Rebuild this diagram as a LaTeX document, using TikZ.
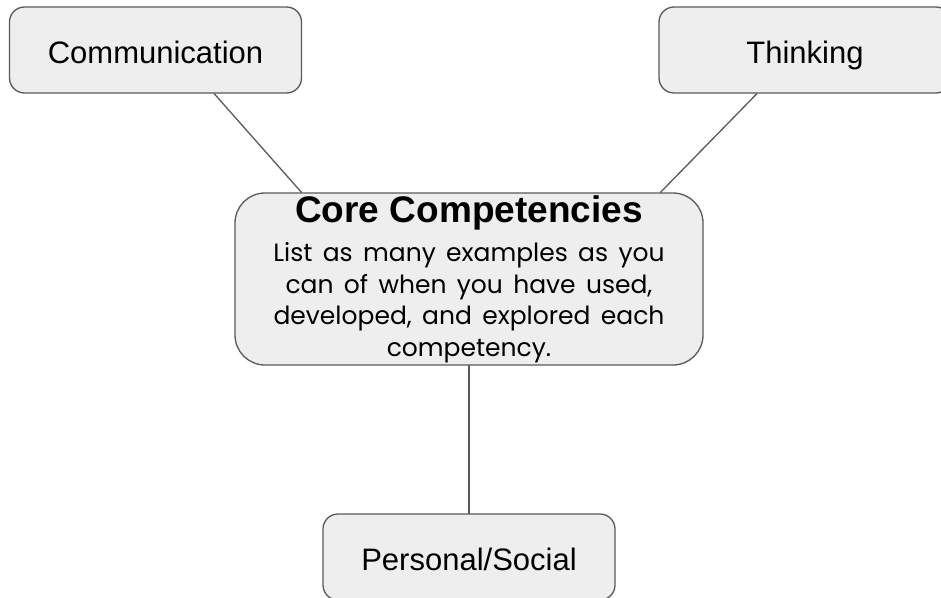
\documentclass[tikz,border=0pt]{standalone}
\usepackage{fontspec}
\setmainfont{Liberation Sans}
\newfontfamily\bodyfont[WordSpace=0.8]{Poppins}
\usetikzlibrary{calc}
\definecolor{boxfill}{HTML}{EEEEEE}
\definecolor{boxline}{HTML}{595959}
\begin{document}
\begin{tikzpicture}[x=1pt, y=-1pt, line join=round, line cap=round,
		topic/.style={draw=boxline, fill=boxfill, line width=1.3pt, rounded corners=15pt, inner sep=0pt, minimum width=292pt, minimum height=86pt, text height=30pt, text depth=4pt, font=\fontsize{31}{36}\selectfont},
		link/.style={draw=boxline, line width=1.3pt}]
		\useasboundingbox (0,0) rectangle (941,597);
		\clip (0,0) rectangle (941,597);
		\node[topic] (comm) at (155.5,50) {Communication};
		\node[topic] (think) at (805,50) {Thinking};
		\node[topic, minimum width=468pt, minimum height=172pt, rounded corners=30pt, text width=468pt, text height=, text depth=, align=center] (core) at (469,279)
			{\vspace*{3pt}{\fontsize{37}{37}\selectfont\bfseries Core Competencies\par}\vspace{5pt}
			{\bodyfont\fontsize{25}{31.5}\selectfont List as many examples as you\\ can of when you have used,\\ developed, and explored each\\ competency.\par}};
		\node[topic] (pers) at (469,557) {Personal/Social};
		\draw[link] ($(comm.south west)!.70!(comm.south east)$)--($(core.north west)!.143!(core.north east)$);
		\draw[link] ($(think.south west)!.336!(think.south east)$)--($(core.north west)!.908!(core.north east)$);
		\draw[link] (core.south)--(pers.north);
	\end{tikzpicture}
\end{document}
